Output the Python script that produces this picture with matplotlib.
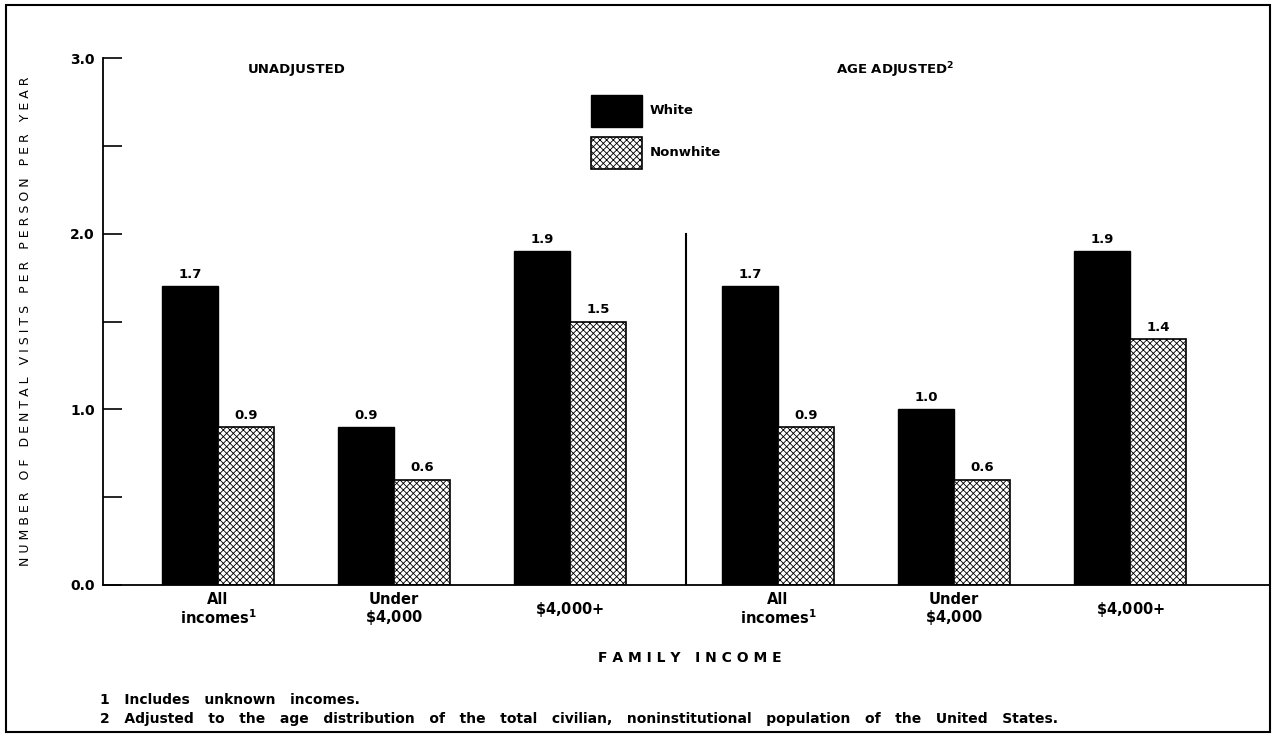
import matplotlib
matplotlib.use("Agg")
import matplotlib.pyplot as plt
from matplotlib.patches import Rectangle

# dental visits per person per year, by family income
categories = ["All\nincomes$^{\\mathbf{1}}$", "Under\n$\\$$4,000", "$\\$$4,000+"]
panels = ["UNADJUSTED", "AGE ADJUSTED$^{\\mathbf{2}}$"]
white_unadj = [1.7, 0.9, 1.9]
nonwhite_unadj = [0.9, 0.6, 1.5]
white_adj = [1.7, 1.0, 1.9]
nonwhite_adj = [0.9, 0.6, 1.4]
yticks = [0.0, 0.5, 1.0, 1.5, 2.0, 2.5, 3.0]

plt.rcParams['font.family'] = ['DejaVu Sans']
plt.rcParams['font.weight'] = 'bold'
plt.rcParams['mathtext.default'] = 'bf'
plt.rcParams['hatch.linewidth'] = 0.6

fig = plt.figure(figsize=(12.73, 7.36), dpi=100)
W, H = 1273, 736
ax = fig.add_axes([103 / W, 151 / H, (1270 - 103) / W, 527 / H])

w = 0.32
gap = 1.182  # extra space between the two panels
centers = [0, 1, 2, 2 + gap, 3 + gap, 4 + gap]
whites = white_unadj + white_adj
nonwhites = nonwhite_unadj + nonwhite_adj
labels = categories * 2

for c, wv, nv, lab in zip(centers, whites, nonwhites, labels):
    ax.bar(c - w / 2, wv, w, color="black", edgecolor="black", linewidth=1)
    ax.bar(c + w / 2, nv, w, color="white", edgecolor="black", hatch="xxxxx", linewidth=1.2)
    ax.text(c - w / 2, wv + 0.03, f"{wv:.1f}", ha="center", va="bottom", fontsize=9.5)
    ax.text(c + w / 2, nv + 0.03, f"{nv:.1f}", ha="center", va="bottom", fontsize=9.5)
    ax.text(c, -0.14, lab, ha="center", va="center", fontsize=10.5, linespacing=1.1)

ax.set_xlim(-0.653, 5.977)
ax.set_ylim(0, 3.0)

# y axis: ticks every 0.5, labels every 1.0
ax.set_yticks(yticks)
ax.set_yticklabels([f"{t:.1f}" if t % 1 == 0 else "" for t in yticks], fontsize=10)
ax.tick_params(axis="y", direction="in", length=14, width=1.2, pad=6)
ax.set_xticks([])

for s in ["top", "right"]:
    ax.spines[s].set_visible(False)
ax.spines["left"].set_linewidth(1.3)
ax.spines["bottom"].set_linewidth(1.3)

# divider between panels
xd = 2 + gap / 2 + 0.07
ax.plot([xd, xd], [0, 2.0], color="black", lw=1.5)

ax.set_ylabel("N U M B E R   O F   D E N T A L   V I S I T S   P E R   P E R S O N   P E R   Y E A R",
              fontsize=9)
ax.yaxis.set_label_coords(-0.061, 0.5)

fig.text(297 / W, 1 - 70 / H, panels[0], ha="center", va="center", fontsize=9.5)
fig.text(895 / W, 1 - 70 / H, panels[1], ha="center", va="center", fontsize=9.5)
fig.text(690 / W, 1 - 658 / H, "F A M I L Y   I N C O M E", ha="center", va="center",
         fontsize=10)

# legend
fig.patches.append(Rectangle((591 / W, 1 - 127 / H), 51 / W, 32 / H, transform=fig.transFigure,
                             facecolor="black", edgecolor="black"))
fig.patches.append(Rectangle((591 / W, 1 - 169 / H), 51 / W, 32 / H, transform=fig.transFigure,
                             facecolor="white", edgecolor="black", hatch="xxxxx", lw=1.2))
fig.text(650 / W, 1 - 111 / H, "White", ha="left", va="center", fontsize=9.5)
fig.text(650 / W, 1 - 153 / H, "Nonwhite", ha="left", va="center", fontsize=9.5)

# footnotes
note1 = "1   Includes   unknown   incomes."
note2 = ("2   Adjusted   to   the   age   distribution   of   the   total   civilian,   "
         "noninstitutional   population   of   the   United   States.")
fig.text(100 / W, 1 - 700 / H, note1, ha="left", va="center", fontsize=10)
fig.text(100 / W, 1 - 719 / H, note2, ha="left", va="center", fontsize=10)

# outer frame
fig.patches.append(Rectangle((6 / W, 4 / H), 1264 / W, 727 / H, transform=fig.transFigure,
                             facecolor="none", edgecolor="black", lw=1.5))

fig.savefig("out.png", dpi=100)
